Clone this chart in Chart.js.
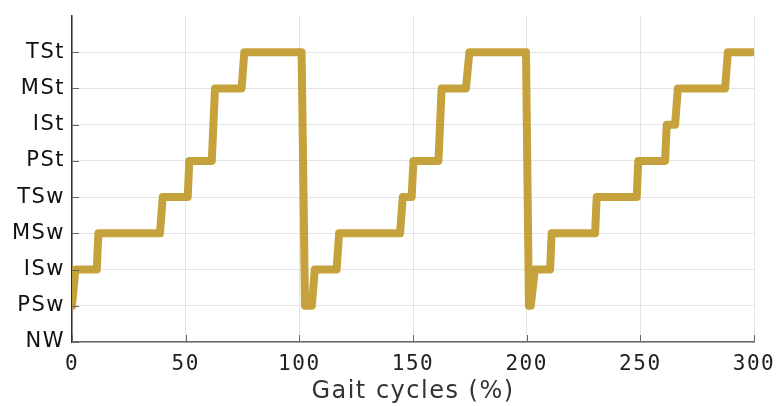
<!DOCTYPE html>
<html>
<head>
<meta charset="utf-8">
<script src="https://cdn.jsdelivr.net/npm/chart.js@4"></script>
<style>
  html, body { margin: 0; padding: 0; background: #fff; }
  #wrap { width: 776px; height: 406px; }
</style>
</head>
<body>
<div id="wrap"><canvas id="gait"></canvas></div>
<script>
// ── Data ──────────────────────────────────────────────────────
const phaseLabels = ['NW', 'PSw', 'ISw', 'MSw', 'TSw', 'PSt', 'ISt', 'MSt', 'TSt'];
const xTicks = [0, 50, 100, 150, 200, 250, 300];

// gait cycle (%) and phase index (into phaseLabels)
const cycleX = [0, 1.5, 10.9, 11.6, 38.7, 39.9, 50.9, 51.6, 61.5, 62.9, 74.6, 75.8,
  101, 102.5, 105.5, 106.8, 116.4, 117.5, 144.3, 145.5, 149.4, 150.2, 161.2, 162.6,
  173.3, 174.8, 199.7, 201, 201.8, 203.6, 210.3, 211, 230.1, 230.8, 248.4, 249.1,
  260.9, 261.6, 265.3, 266.5, 287.3, 288.5, 300];
const phaseY = [1, 2, 2, 3, 3, 4, 4, 5, 5, 7, 7, 8,
  8, 1, 1, 2, 2, 3, 3, 4, 4, 5, 5, 7,
  7, 8, 8, 1, 1, 2, 2, 3, 3, 4, 4, 5,
  5, 6, 6, 7, 7, 8, 8];

// ── Wider letter spacing, like the reference ──────────────────
const spacing = {
  id: 'spacing',
  beforeDraw(chart) { chart.ctx.letterSpacing = '1.5px'; }
};

// ── Inward tick marks ─────────────────────────────────────────
const innerTicks = {
  id: 'innerTicks',
  afterDatasetsDraw(chart) {
    const { ctx, chartArea, scales } = chart;
    ctx.save();
    ctx.strokeStyle = '#666';
    ctx.lineWidth = 1;
    ctx.beginPath();
    xTicks.forEach(v => {
      const px = Math.round(scales.x.getPixelForValue(v)) + 0.5;
      ctx.moveTo(px, chartArea.bottom);
      ctx.lineTo(px, chartArea.bottom - 7);
    });
    phaseLabels.forEach((_, i) => {
      const py = Math.round(scales.y.getPixelForValue(i)) + 0.5;
      ctx.moveTo(chartArea.left, py);
      ctx.lineTo(chartArea.left + 7, py);
    });
    ctx.stroke();
    ctx.restore();
  }
};

// ── Chart ─────────────────────────────────────────────────────
new Chart(document.getElementById('gait'), {
  type: 'line',
  data: {
    datasets: [{
      data: cycleX.map((x, i) => ({ x, y: phaseY[i] })),
      borderColor: 'rgba(194,155,46,0.93)',
      borderWidth: 8,
      borderJoinStyle: 'round',
      borderCapStyle: 'round',
      pointRadius: 0,
      tension: 0,
      fill: false
    }]
  },
  options: {
    responsive: true,
    maintainAspectRatio: false,
    animation: false,
    layout: { padding: { top: 16, right: 22, left: 0, bottom: 0 } },
    plugins: { legend: { display: false }, tooltip: { enabled: false } },
    scales: {
      x: {
        type: 'linear',
        min: 0,
        max: 300,
        afterBuildTicks: s => { s.ticks = xTicks.map(v => ({ value: v })); },
        afterFit: s => { s.height = 64; s.paddingLeft = 0; s.paddingRight = 0; },
        border: { color: '#666', width: 1.5 },
        grid: { color: '#e4e4e4', drawTicks: false },
        ticks: {
          color: '#222',
          padding: 10,
          maxRotation: 0,
          font: { family: 'DejaVu Sans Mono', size: 21 }
        },
        title: {
          display: true,
          text: 'Gait cycles (%)',
          color: '#333',
          padding: { top: 2, bottom: 0 },
          font: { family: 'DejaVu Sans', size: 24 }
        }
      },
      y: {
        type: 'linear',
        min: 0,
        max: 9,
        afterBuildTicks: s => { s.ticks = phaseLabels.map((_, i) => ({ value: i })); },
        afterFit: s => { s.width = 72; s.paddingTop = 0; s.paddingBottom = 0; },
        border: { color: '#333', width: 1.5 },
        grid: { color: '#e4e4e4', drawTicks: false },
        ticks: {
          color: '#111',
          padding: 7,
          callback: v => phaseLabels[v],
          font: { family: 'DejaVu Sans', size: 21 }
        }
      }
    }
  },
  plugins: [spacing, innerTicks]
});
</script>
</body>
</html>
